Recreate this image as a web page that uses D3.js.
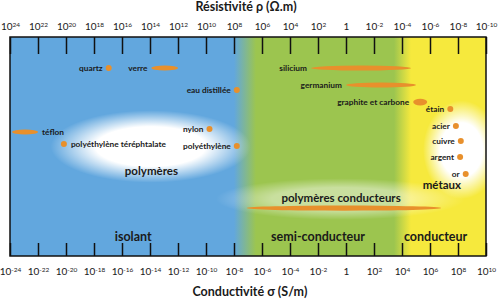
<!DOCTYPE html>
<html>
<head>
<meta charset="utf-8">
<script src="https://cdn.jsdelivr.net/npm/d3@7"></script>
<style>
  body { margin: 0; background: #fff; }
  text { font-family: Lato, "Open Sans", sans-serif; fill: #1a1a1a; }
  .tick line { stroke: #111; stroke-width: 1.5; }
  .domain { display: none; }
</style>
</head>
<body>
<div id="chart"></div>
<script>
// echelles (puissances de 10)
var resistTicks = [24, 22, 20, 18, 16, 14, 12, 10, 8, 6, 4, 2, 0, -2, -4, -6, -8, -10];
var conductTicks = [-24, -22, -20, -18, -16, -14, -12, -10, -8, -6, -4, -2, 0, 2, 4, 6, 8, 10];

// domaines : limites en resistivite (log10)
var bandNames = ["isolant", "semi-conducteur", "conducteur"];
var bandLimits = [8, -4];
var bandLabelPos = [15.2, 2, -6.4];

// materiaux : log10 resistivite (min, max), niveau vertical (0 = haut, 1 = bas)
var materials = ["quartz", "verre", "eau distillée", "téflon", "polyéthylène téréphtalate", "nylon", "polyéthylène",
                 "silicium", "germanium", "graphite et carbone", "étain", "acier", "cuivre", "argent", "or"];
var rhoMin = [16.95, 13.9, 7.8, 23.85, 20.15, 9.75, 7.8, 2.5, 0, -4.8, -7.45, -7.85, -8.2, -8.15, -8.55];
var rhoMax = [16.95, 12.0, 7.8, 22.0, 20.15, 9.75, 7.8, -4.65, -5.0, -5.8, -7.45, -7.85, -8.2, -8.15, -8.55];
var levels = [0.142, 0.142, 0.242, 0.434, 0.489, 0.42, 0.498, 0.142, 0.219, 0.297, 0.329, 0.406, 0.475, 0.548, 0.626];
var labelSide = ["left", "left", "left", "right", "right", "left", "left", "left", "left", "left", "left", "left", "left", "left", "left"];

// familles (halo blanc)
var families = ["polymères", "métaux", "polymères conducteurs"];
var famRhoMin = [21.1, -5.5, 9.3];
var famRhoMax = [6.8, -11, -8.5];
var famLevel = [0.5, 0.515, 0.74];
var famLevelSpan = [0.33, 0.45, 0.19];
var famLabelRho = [13.9, -6.85, 0.35];
var famLabelLevel = [0.612, 0.676, 0.735];

// polymeres conducteurs : bande
var condPolyRho = [7.1, -6.8];
var condPolyLevel = 0.781;

var svgWidth = 500;
var svgHeight = 301;
var margin = { top: 37, right: 14, bottom: 45, left: 10 };
var width = svgWidth - margin.left - margin.right;
var height = svgHeight - margin.top - margin.bottom;

var orange = "#e8902c";

var svg = d3.select("#chart").append("svg")
    .attr("width", svgWidth)
    .attr("height", svgHeight);

var defs = svg.append("defs");

var xScale = d3.scaleLinear().domain([24, -10]).range([0, width]);
var cScale = d3.scaleLinear().domain([-24, 10]).range([0, width]);
var yScale = d3.scaleLinear().domain([0, 1]).range([0, height]);

// fond en degrade
var grad = defs.append("linearGradient").attr("id", "bg")
    .attr("x1", "0").attr("x2", "1").attr("y1", "0").attr("y2", "0");
var off = function(px) { return (px / width * 100) + "%"; };
var b1 = xScale(bandLimits[0]), b2 = xScale(bandLimits[1]);
[[0, "#62a7de"], [b1, "#62a7de"], [b1 + 22, "#9cc54f"], [b2 - 8, "#9cc54f"], [b2 + 9, "#f6e93d"], [width, "#f6e93d"]]
    .forEach(function(s) {
        grad.append("stop").attr("offset", off(s[0])).attr("stop-color", s[1]);
    });

var glow = defs.append("radialGradient").attr("id", "glow");
glow.append("stop").attr("offset", "0%").attr("stop-color", "#fff").attr("stop-opacity", 1);
glow.append("stop").attr("offset", "55%").attr("stop-color", "#fff").attr("stop-opacity", 1);
glow.append("stop").attr("offset", "100%").attr("stop-color", "#fff").attr("stop-opacity", 0);

var chart = svg.append("g")
    .attr("transform", `translate(${margin.left}, ${margin.top})`);

chart.append("rect")
    .attr("width", width)
    .attr("height", height)
    .attr("fill", "url(#bg)");

// halos
chart.selectAll(".halo")
    .data(families)
    .enter()
    .append("ellipse")
    .attr("class", "halo")
    .attr("cx", (d, i) => (xScale(famRhoMin[i]) + xScale(famRhoMax[i])) / 2)
    .attr("cy", (d, i) => yScale(famLevel[i]))
    .attr("rx", (d, i) => Math.abs(xScale(famRhoMax[i]) - xScale(famRhoMin[i])) / 2)
    .attr("ry", (d, i) => yScale(famLevelSpan[i]) / 2)
    .attr("fill", "url(#glow)")
    .attr("opacity", (d, i) => i == 2 ? 0.45 : 1);

// bande polymeres conducteurs
chart.append("ellipse")
    .attr("cx", (xScale(condPolyRho[0]) + xScale(condPolyRho[1])) / 2)
    .attr("cy", yScale(condPolyLevel))
    .attr("rx", (xScale(condPolyRho[1]) - xScale(condPolyRho[0])) / 2)
    .attr("ry", 2.6)
    .attr("fill", orange);

// materiaux
var mat = chart.selectAll(".mat")
    .data(materials)
    .enter()
    .append("g")
    .attr("class", "mat");

mat.append("ellipse")
    .attr("cx", (d, i) => (xScale(rhoMin[i]) + xScale(rhoMax[i])) / 2)
    .attr("cy", (d, i) => yScale(levels[i]))
    .attr("rx", (d, i) => Math.max(3, Math.abs(xScale(rhoMax[i]) - xScale(rhoMin[i])) / 2))
    .attr("ry", (d, i) => rhoMin[i] == rhoMax[i] ? 3 : (d == "graphite et carbone" ? 3.4 : 2.5))
    .attr("fill", orange);

mat.append("text")
    .attr("x", function(d, i) {
        var a = xScale(rhoMin[i]), b = xScale(rhoMax[i]);
        var pt = rhoMin[i] == rhoMax[i];
        if (labelSide[i] == "left") return Math.min(a, b) - (pt ? 6 : 4);
        return Math.max(a, b) + (pt ? 7 : 4);
    })
    .attr("y", (d, i) => yScale(levels[i]))
    .attr("dy", "0.35em")
    .attr("text-anchor", (d, i) => labelSide[i] == "left" ? "end" : "start")
    .attr("font-size", "8.3px")
    .attr("font-weight", 700)
    .text(d => d);

// noms des familles
chart.selectAll(".famLabel")
    .data(families)
    .enter()
    .append("text")
    .attr("class", "famLabel")
    .attr("x", (d, i) => xScale(famLabelRho[i]))
    .attr("y", (d, i) => yScale(famLabelLevel[i]))
    .attr("dy", "0.35em")
    .attr("text-anchor", "middle")
    .attr("font-size", "11.5px")
    .attr("font-weight", 700)
    .text(d => d);

// domaines
chart.selectAll(".band")
    .data(bandNames)
    .enter()
    .append("text")
    .attr("class", "band")
    .attr("x", (d, i) => xScale(bandLabelPos[i]))
    .attr("y", yScale(0.913))
    .attr("dy", "0.35em")
    .attr("text-anchor", "middle")
    .attr("font-size", "12.5px")
    .attr("font-weight", 700)
    .text(d => d);

// axes
function powerLabel(sel) {
    sel.each(function(d) {
        var t = d3.select(this);
        t.text(null);
        if (d == 0) { t.append("tspan").text("1"); return; }
        t.append("tspan").text("10");
        t.append("tspan").attr("dy", "-3.5").attr("font-size", "6.5px").text(d);
    });
}

var topAxis = d3.axisTop(xScale).tickValues(resistTicks).tickSize(-17).tickPadding(7).tickFormat("");
var gTop = chart.append("g").call(topAxis);
gTop.selectAll(".tick text")
    .attr("font-size", "10px")
    .attr("fill", "#222")
    .call(powerLabel);

var bottomAxis = d3.axisBottom(cScale).tickValues(conductTicks).tickSize(-13).tickPadding(12).tickFormat("");
var gBottom = chart.append("g")
    .attr("transform", `translate(0, ${height})`)
    .call(bottomAxis);
gBottom.selectAll(".tick text")
    .attr("font-size", "10px")
    .attr("fill", "#222")
    .attr("dy", "0.71em")
    .call(powerLabel);

// cadre
chart.append("rect")
    .attr("width", width)
    .attr("height", height)
    .attr("fill", "none")
    .attr("stroke", "#111")
    .attr("stroke-width", 1.5);

// titres
svg.append("text")
    .attr("x", 246)
    .attr("y", 11)
    .attr("text-anchor", "middle")
    .attr("font-size", "12.5px")
    .attr("font-weight", 700)
    .text("Résistivité ρ (Ω.m)");

svg.append("text")
    .attr("x", 250)
    .attr("y", 296)
    .attr("text-anchor", "middle")
    .attr("font-size", "12.5px")
    .attr("font-weight", 700)
    .text("Conductivité σ (S/m)");
</script>
</body>
</html>
